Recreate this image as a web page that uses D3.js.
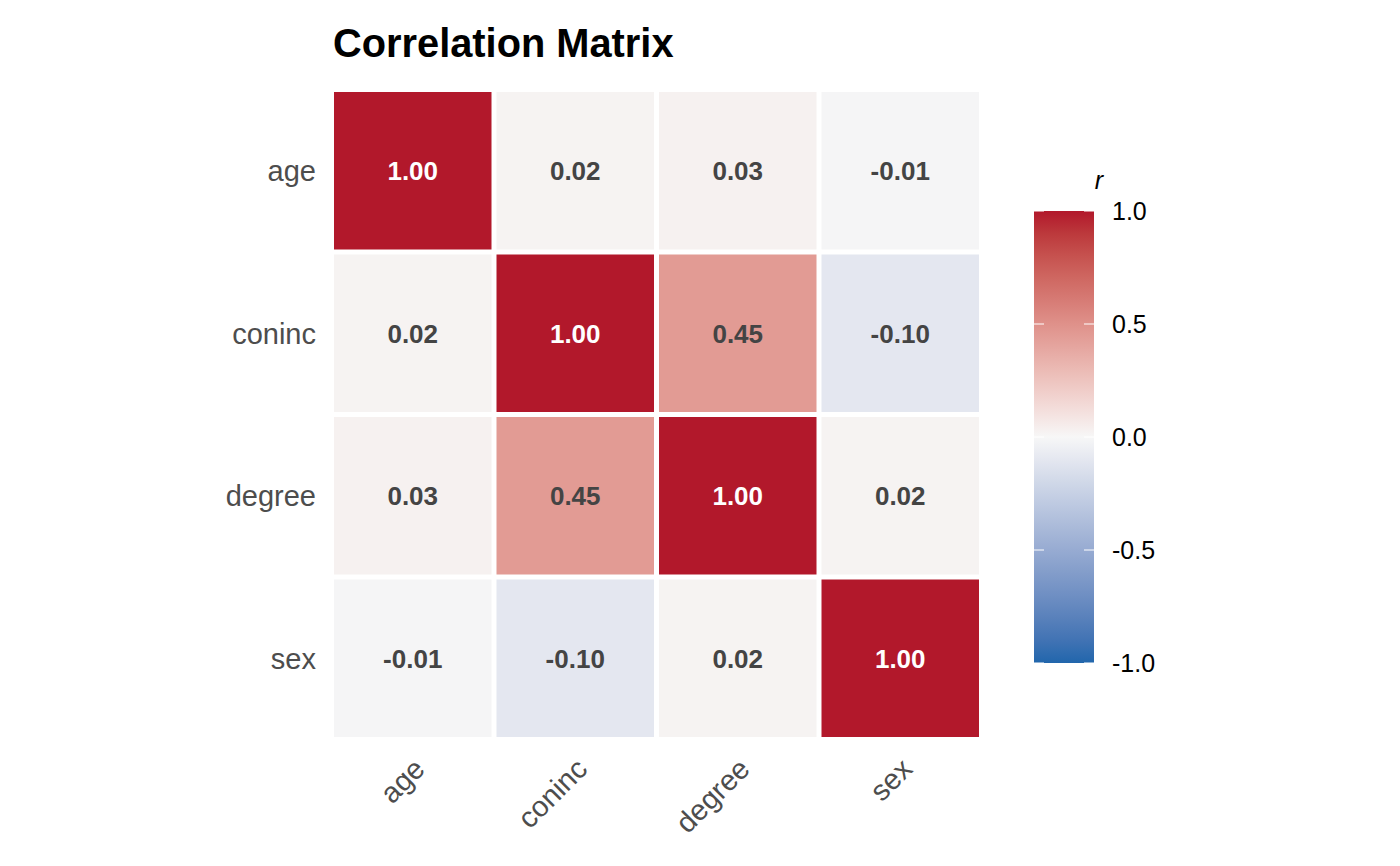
<!DOCTYPE html>
<html>
<head>
<meta charset="utf-8">
<script src="https://cdn.jsdelivr.net/npm/d3@7"></script>
<style>
  body { margin: 0; background: #fff; }
  text { font-family: "Liberation Sans", Arial, sans-serif; }
</style>
</head>
<body>
<svg id="chart" width="1400" height="866"></svg>
<script>
// variables, in display order
const vars = ["age", "coninc", "degree", "sex"];
// correlation matrix rows (same order as vars)
const rowAge    = [1.00, 0.02, 0.03, -0.01];
const rowConinc = [0.02, 1.00, 0.45, -0.10];
const rowDegree = [0.03, 0.45, 1.00, 0.02];
const rowSex    = [-0.01, -0.10, 0.02, 1.00];
const matrix = [rowAge, rowConinc, rowDegree, rowSex];
const legendTicks = [-1, -0.5, 0, 0.5, 1];

const svg = d3.select("#chart");

let cells = [];
for (let i = 0; i < vars.length; i++) {
  for (let j = 0; j < vars.length; j++) {
    cells.push({row: vars[i], col: vars[j], r: matrix[i][j]});
  }
}

const x = d3.scaleBand().domain(vars).range([331.5, 981.5]);
const y = d3.scaleBand().domain(vars).range([89.5, 739.5]);

const color = d3.scaleLinear()
  .domain([-1, 0, 1])
  .range(["#2166AC", "#F7F7F7", "#B2182B"])
  .interpolate(d3.interpolateLab);

// title
svg.append("text")
  .attr("x", 333).attr("y", 57)
  .attr("font-size", 39.8).attr("font-weight", "bold")
  .attr("fill", "#000")
  .text("Correlation Matrix");

const g = svg.append("g");
g.selectAll("rect.tile")
  .data(cells)
  .enter()
  .append("rect")
  .attr("class", "tile")
  .attr("x", d => x(d.col) + 2.5)
  .attr("y", d => y(d.row) + 2.5)
  .attr("width", x.bandwidth() - 5)
  .attr("height", y.bandwidth() - 5)
  .attr("fill", d => color(d.r));

g.selectAll("text.val")
  .data(cells)
  .enter()
  .append("text")
  .attr("class", "val")
  .attr("x", d => x(d.col) + x.bandwidth() / 2)
  .attr("y", d => y(d.row) + y.bandwidth() / 2)
  .attr("dy", "0.36em")
  .attr("text-anchor", "middle")
  .attr("font-size", 26).attr("font-weight", "bold")
  .attr("fill", d => Math.abs(d.r) > 0.7 ? "#fff" : "#444")
  .text(d => d.r.toFixed(2));

// y axis labels
svg.append("g").selectAll("text")
  .data(vars)
  .enter()
  .append("text")
  .attr("x", 316)
  .attr("y", d => y(d) + y.bandwidth() / 2)
  .attr("dy", "0.36em")
  .attr("text-anchor", "end")
  .attr("font-size", 29)
  .attr("fill", "#4D4D4D")
  .text(d => d);

// x axis labels, rotated 45
svg.append("g").selectAll("text")
  .data(vars)
  .enter()
  .append("text")
  .attr("transform", d => `translate(${x(d) + x.bandwidth() / 2 - 1},756) rotate(-45)`)
  .attr("dy", "0.72em")
  .attr("text-anchor", "end")
  .attr("font-size", 29)
  .attr("fill", "#4D4D4D")
  .text(d => d);

// legend colour bar
const ly = d3.scaleLinear().domain([-1, 1]).range([663, 211]);
const defs = svg.append("defs");
const grad = defs.append("linearGradient")
  .attr("id", "rgrad")
  .attr("x1", 0).attr("y1", 1).attr("x2", 0).attr("y2", 0);
d3.range(0, 21).forEach(k => {
  const v = -1 + k * 0.1;
  grad.append("stop")
    .attr("offset", k / 20)
    .attr("stop-color", color(v));
});
const lx0 = 1034, lw = 60;
svg.append("rect")
  .attr("x", lx0).attr("y", ly(1))
  .attr("width", lw).attr("height", ly(-1) - ly(1))
  .attr("fill", "url(#rgrad)");

const lt = svg.append("g");
lt.selectAll("line.tl")
  .data(legendTicks)
  .enter()
  .append("line")
  .attr("x1", lx0).attr("x2", lx0 + 10)
  .attr("y1", d => ly(d)).attr("y2", d => ly(d))
  .attr("stroke", "#fff").attr("stroke-width", 1);
lt.selectAll("line.tr")
  .data(legendTicks)
  .enter()
  .append("line")
  .attr("x1", lx0 + lw - 10).attr("x2", lx0 + lw)
  .attr("y1", d => ly(d)).attr("y2", d => ly(d))
  .attr("stroke", "#fff").attr("stroke-width", 1);
lt.selectAll("text")
  .data(legendTicks)
  .enter()
  .append("text")
  .attr("x", 1112)
  .attr("y", d => ly(d))
  .attr("dy", "0.36em")
  .attr("font-size", 25)
  .attr("fill", "#000")
  .text(d => d.toFixed(1));

svg.append("text")
  .attr("x", 1099).attr("y", 189)
  .attr("text-anchor", "middle")
  .attr("font-size", 25).attr("font-style", "italic")
  .attr("fill", "#000")
  .text("r");
</script>
</body>
</html>
